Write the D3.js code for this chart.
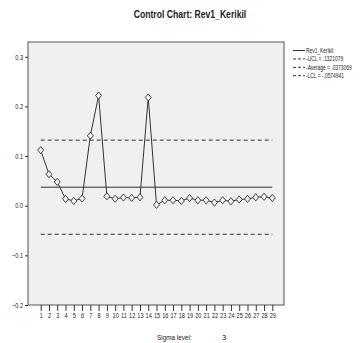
<!DOCTYPE html>
<html>
<head>
<meta charset="utf-8">
<script src="https://cdn.jsdelivr.net/npm/d3@7"></script>
<style>
  body { margin: 0; background: #fff; }
  text { font-family: "Liberation Sans", Arial, sans-serif; fill: #222; }
</style>
</head>
<body>
<script>
// valori
const samples = d3.range(1, 30);
const rev1Kerikil = [0.112, 0.0635, 0.048, 0.0137, 0.0097, 0.0145, 0.141, 0.222, 0.019, 0.014,
  0.0165, 0.016, 0.017, 0.218, 0.0017, 0.011, 0.011, 0.0097, 0.0155, 0.011,
  0.011, 0.0064, 0.011, 0.009, 0.0125, 0.0137, 0.017, 0.018, 0.0155];
const ucl = 0.1321079;
const average = 0.0373069;
const lcl = -0.0574941;
const yTicks = [-0.2, -0.1, 0.0, 0.1, 0.2, 0.3];
const legendLabels = ["Rev1_Kerikil", "-UCL = .1321079", "-Average = .0373069", "-LCL = -.0574941"];

const W = 361, H = 343;
const box = { left: 28, top: 42, right: 284, bottom: 305 };

var svg = d3.select("body").append("svg")
  .attr("width", W)
  .attr("height", H);

const x = d3.scaleLinear().domain([1, 29]).range([40.7, 272.3]);
const y = d3.scaleLinear().domain([-0.2, 0.3]).range([box.bottom, 56.8]);

// testo stretto, come il carattere "narrow" dell'originale
function narrow(sel, k) {
  sel.each(function () {
    let len = this.getComputedTextLength();
    d3.select(this).attr("textLength", len * k).attr("lengthAdjust", "spacingAndGlyphs");
  });
}

// titolo
svg.append("text")
  .attr("x", 190).attr("y", 18)
  .attr("text-anchor", "middle")
  .style("font-size", "10.5px")
  .style("font-weight", "bold")
  .text("Control Chart: Rev1_Kerikil")
  .call(narrow, 0.82);

// area del grafico
svg.append("rect")
  .attr("x", box.left).attr("y", box.top)
  .attr("width", box.right - box.left)
  .attr("height", box.bottom - box.top)
  .attr("fill", "#f0f0f0")
  .attr("stroke", "#555")
  .attr("stroke-width", 1);

// assi
const yAxis = svg.append("g")
  .attr("transform", "translate(" + box.left + ",0)")
  .call(d3.axisLeft(y).tickValues(yTicks).tickFormat(d3.format(".1f")).tickSize(3).tickPadding(2));
yAxis.select(".domain").remove();
yAxis.selectAll("text").style("font-size", "7px").style("font-family", "'Liberation Sans', sans-serif").call(narrow, 0.8);
yAxis.selectAll("line").attr("stroke", "#333");

const xAxis = svg.append("g")
  .attr("transform", "translate(0," + box.bottom + ")")
  .call(d3.axisBottom(x).tickValues(samples).tickFormat(d3.format("d")).tickSize(6).tickPadding(2));
xAxis.select(".domain").remove();
xAxis.selectAll("text").style("font-size", "7px").style("font-family", "'Liberation Sans', sans-serif").call(narrow, 0.8);
xAxis.selectAll("line").attr("stroke", "#333");

// linee di controllo
function hLine(v, dash) {
  svg.append("line")
    .attr("x1", x(1)).attr("x2", x(29))
    .attr("y1", y(v)).attr("y2", y(v))
    .attr("stroke", "#333")
    .attr("stroke-width", 1)
    .attr("stroke-dasharray", dash);
}
hLine(ucl, "4,3");
hLine(average, null);
hLine(lcl, "4,3");

// serie
svg.append("path")
  .datum(rev1Kerikil)
  .attr("fill", "none")
  .attr("stroke", "#333")
  .attr("stroke-width", 1)
  .attr("d", d3.line().x((d, i) => x(samples[i])).y(d => y(d)));

svg.selectAll(".pt")
  .data(rev1Kerikil)
  .enter().append("path")
  .attr("class", "pt")
  .attr("transform", (d, i) => "translate(" + x(samples[i]) + "," + y(d) + ")")
  .attr("d", "M0,-3.6L3,0L0,3.6L-3,0Z")
  .attr("fill", "#f0f0f0")
  .attr("stroke", "#333")
  .attr("stroke-width", 0.9);

// legenda (scalata in orizzontale per stare nella finestra)
const leg = svg.append("g").attr("transform", "translate(293,50.5)");
legendLabels.forEach(function (lab, i) {
  let g = leg.append("g").attr("transform", "translate(0," + (i * 8.4) + ")");
  g.append("line")
    .attr("x1", 0).attr("x2", 12).attr("y1", 0).attr("y2", 0)
    .attr("stroke", "#333")
    .attr("stroke-dasharray", i == 0 ? null : "3,2");
  g.append("g")
    .attr("transform", "translate(13,2.5) scale(0.72,1)")
    .append("text")
    .style("font-size", "6.8px")
    .text(lab);
});

// livello sigma
svg.append("text")
  .attr("x", 157).attr("y", 340)
  .style("font-size", "7.5px")
  .text("Sigma level:")
  .call(narrow, 0.85);
svg.append("text")
  .attr("x", 222).attr("y", 340)
  .style("font-size", "7.5px")
  .text("3");
</script>
</body>
</html>
